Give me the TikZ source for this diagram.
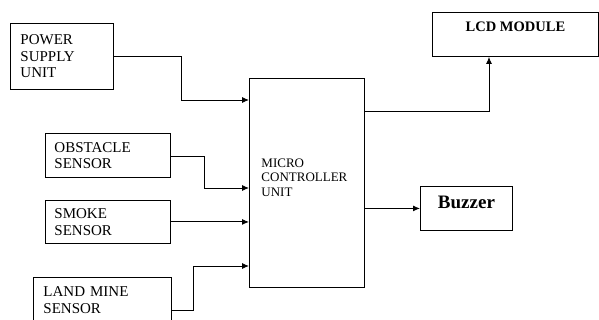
\documentclass[tikz,border=0pt]{standalone}
\usepackage{fontspec}
\setmainfont{Liberation Serif}
\usetikzlibrary{arrows.meta,positioning,calc}

\begin{document}
\begin{tikzpicture}[x=1pt, y=-1pt, line width=0.9pt,
    block/.style={draw, rectangle, inner sep=0pt, anchor=north west, align=left},
    sensor/.style={block, font=\fontsize{15}{16.5}\selectfont, inner xsep=10pt, text width=#1},
    conn/.style={-{Latex[length=7pt,width=6pt]}}]
  \useasboundingbox (0,0) rectangle (599,320);
  % Input blocks
  \node[sensor=83pt, minimum height=66pt] (power) at (10,23) {POWER\\SUPPLY\\UNIT};
  \node[sensor=107pt, inner xsep=9pt, minimum height=44pt] (obstacle) at (45,133) {OBSTACLE\\SENSOR};
  \node[sensor=107pt, inner xsep=9pt, minimum height=43pt] (smoke) at (45,200) {SMOKE\\SENSOR};
  \node[sensor=118pt, minimum height=45pt] (landmine) at (33,277) {LAND MINE\\SENSOR};
  % Controller
  \node[block, font=\fontsize{13}{14.5}\selectfont, inner xsep=12pt, text width=91pt,
        minimum height=209pt, text depth=40pt] (mcu) at (249,78) {MICRO\\CONTROLLER\\UNIT};
  % Output blocks
  \node[block, align=center, font=\bfseries\fontsize{14.5}{16}\selectfont, minimum width=166pt,
        minimum height=44pt, text depth=16pt] (lcd) at (432,12) {LCD MODULE};
  \node[block, align=center, font=\bfseries\fontsize{19}{21}\selectfont, minimum width=92pt,
        minimum height=44pt, text depth=12.8pt] (buzzer) at (420,186) {Buzzer};
  % Connectors
  \draw[conn] (power.east) -- ++(68,0) |- ($(mcu.north west)+(0,22)$);
  \draw[conn] ($(obstacle.north east)+(0,23)$) -- ++(34,0) |- ($(mcu.north west)+(0,110)$);
  \draw[conn] (smoke.east) -- (smoke.east -| mcu.west);
  \draw[conn] ($(landmine.north east)+(0,33)$) -- ++(22,0) |- ($(mcu.north west)+(0,188)$);
  \draw[conn] ($(mcu.north east)+(0,33)$) -| ($(lcd.south west)+(57,0)$);
  \draw[conn] (mcu.east |- buzzer.west) -- (buzzer.west);
\end{tikzpicture}
\end{document}
